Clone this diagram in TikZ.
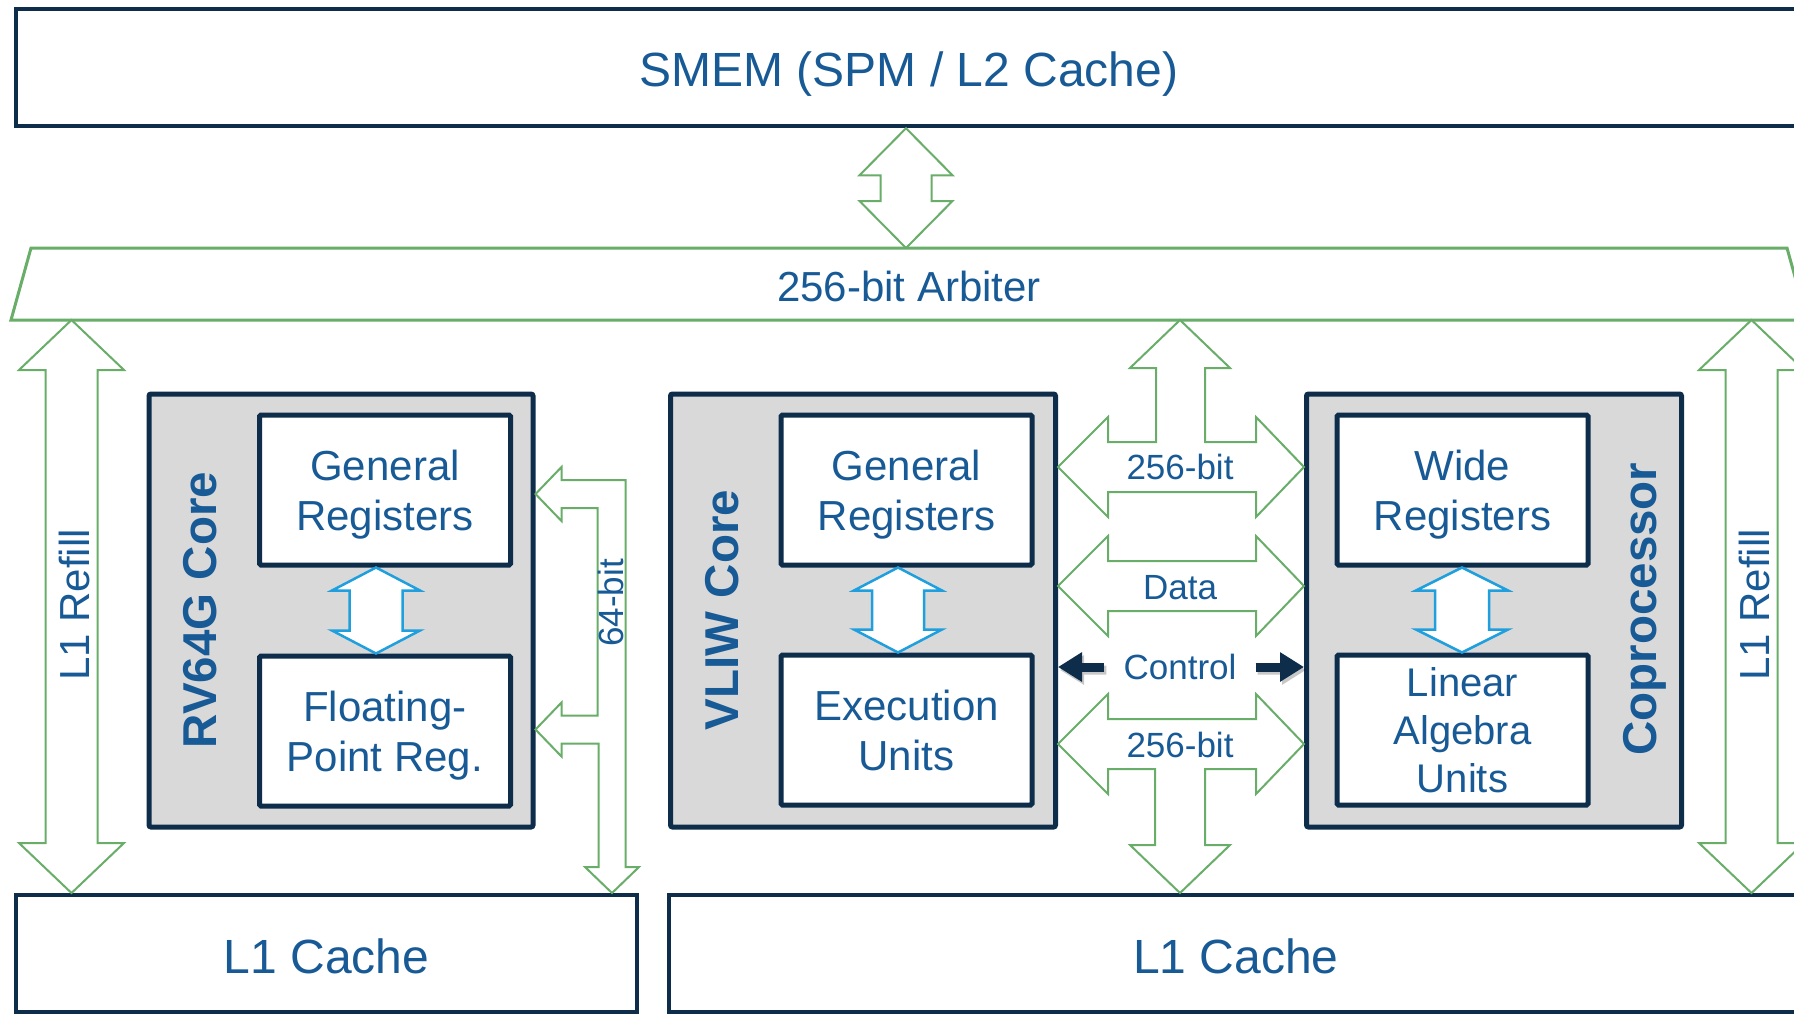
\documentclass[tikz,border=0pt]{standalone}
\usepackage{fontspec}
\setmainfont{Liberation Sans}
\usetikzlibrary{calc,arrows.meta}

\definecolor{navy}{HTML}{0E2D4B}
\definecolor{tblue}{HTML}{175A96}
\definecolor{bgreen}{HTML}{68AD68}
\definecolor{lblue}{HTML}{1F9FDD}
\definecolor{coregray}{HTML}{D9D9D9}

% last line of a multi-line label without its descender depth
\newcommand\nd[1]{\raisebox{0pt}[\height][0pt]{#1}}
% single-line label set a little lower inside its box
\newcommand\lowered[2]{\raisebox{-#1pt}[\height][0pt]{#2}}

% vertical double-headed block arrow: style, upper tip, lower tip,
% half shaft width, half head width, head length
\newcommand\vbiarrow[6]{%
  \draw[#1] (#2) -- ++(#5,#6) -- ++(#4-#5,0) -- ($(#3)+(#4,-#6)$)
    -- ++(#5-#4,0) -- (#3) -- ++(-#5,-#6) -- ++(#5-#4,0)
    -- ($(#2)+(-#4,#6)$) -- ++(#4-#5,0) -- cycle;}

\begin{document}
\begin{tikzpicture}[x=1pt,y=-1pt,
  lbl/.style={text=tblue,inner sep=0pt,align=center},
  fbig/.style={font=\fontsize{48pt}{57.6pt}\selectfont},
  fmid/.style={font=\fontsize{42pt}{50pt}\selectfont},
  fsmall/.style={font=\fontsize{35pt}{42pt}\selectfont},
  fcore/.style={font=\fontsize{47.5pt}{57pt}\selectfont\bfseries},
  membox/.style={draw=navy,line width=4.5pt,fill=white,lbl,fbig,text depth=0pt},
  corebox/.style={draw=navy,line width=5pt,fill=coregray,rounded corners=2pt,
    minimum width=384pt,minimum height=433pt},
  unitbox/.style={draw=navy,line width=5pt,fill=white,rounded corners=1.5pt,
    minimum width=251pt,minimum height=150pt,lbl,fmid},
  gblock/.style={draw=bgreen,line width=2pt,fill=white,line join=miter},
  bblock/.style={draw=lblue,line width=2.5pt,fill=white,line join=miter},
  ctrlarrow/.style={draw=navy,fill=navy,line width=9pt,-{Triangle[length=24pt,width=28pt]}},
  buslbl/.style={lbl,fsmall,text depth=0pt},
]
\useasboundingbox (0,0) rectangle (1794,1013);
\clip (0,0) rectangle (1794,1013);
\fill[white] (0,0) rectangle (1794,1013);

% memories
\node[membox,minimum width=1786pt,minimum height=117pt] (smem) at (909,67.5) {\lowered{2}{SMEM (SPM / L2 Cache)}};
\node[membox,line width=4pt,minimum width=621pt,minimum height=117pt] (l1a) at (326.5,953.5) {\lowered{2.5}{L1 Cache}};
\node[membox,line width=4pt,minimum width=1134pt,minimum height=117pt] (l1b) at (1236,953.5) {\lowered{2.5}{L1 Cache}};

% arbiter
\node[lbl,fmid,text depth=0pt,minimum width=1776pt,minimum height=72pt,outer sep=0pt] (arb) at (909,284) {\lowered{2.5}{256-bit Arbiter}};
\draw[draw=bgreen,line width=3pt] ($(arb.north west)+(10,0)$) -- ($(arb.north east)+(-10,0)$)
  -- ($(arb.south east)+(10,0)$) -- ($(arb.south west)+(-10,0)$) -- cycle;

% cores
\node[corebox] (rv) at (341,610.5) {};
\node[corebox,minimum width=385pt] (vliw) at (863,610.5) {};
\node[corebox,minimum width=375pt] (copro) at (1494,610.5) {};

\node[unitbox] (gr1) at (385,490) {General\\\nd{Registers}};
\node[unitbox] (fp1) at (385,731) {Floating-\\\nd{Point Reg.}};
\node[unitbox] (gr2) at (906.5,490) {General\\\nd{Registers}};
\node[unitbox] (ex2) at (906.5,730) {Execution\\Units};
\node[unitbox] (wr3) at (1462.5,490) {Wide\\\nd{Registers}};
\node[unitbox,font=\fontsize{40pt}{48pt}\selectfont] (la3) at (1462.5,730) {Linear\\Algebra\\Units};

\node[lbl,fcore,rotate=90] (rvlbl) at (200,610) {RV64G Core};
\node[lbl,fcore,rotate=90] (vliwlbl) at (722,610) {VLIW Core};
\node[lbl,fcore,rotate=90,text depth=0pt] (coprolbl) at (1640,609) {Coprocessor};

% SMEM <-> arbiter
\coordinate (m1) at (906,0 |- smem.south);
\coordinate (m2) at (906,0 |- arb.north);
\vbiarrow{gblock}{m1}{m2}{25.5}{46.5}{47}

% L1 refill paths
\coordinate (r1) at (71.5,0 |- arb.south);
\coordinate (r2) at (71.5,0 |- l1a.north);
\vbiarrow{gblock}{r1}{r2}{26}{52.5}{50}
\coordinate (r3) at (1751.5,0 |- arb.south);
\coordinate (r4) at (1751.5,0 |- l1b.north);
\vbiarrow{gblock}{r3}{r4}{26}{52.5}{50}

% register file <-> unit links
\coordinate (b1) at (376,0 |- gr1.south);
\coordinate (b2) at (376,0 |- fp1.north);
\vbiarrow{bblock}{b1}{b2}{26.5}{44}{23}
\coordinate (b3) at (898,0 |- gr2.south);
\coordinate (b4) at (898,0 |- ex2.north);
\vbiarrow{bblock}{b3}{b4}{26}{44}{23}
\coordinate (b5) at (1462,0 |- wr3.south);
\coordinate (b6) at (1462,0 |- la3.north);
\vbiarrow{bblock}{b5}{b6}{27}{46}{23}

% 64-bit bus of the RV64G core
\coordinate (w1) at (rv.east |- 0,494);
\coordinate (w2) at (rv.east |- 0,729.5);
\coordinate (w3) at (612,0 |- l1a.north);
\draw[gblock] let \p1=(w1), \p2=(w2), \p3=(w3) in
  (\p1) -- ++(26,-27) -- ++(0,13)
  -- (\x3+13.5pt,\y1+14pt) -- (\x3+13.5pt,\y3+26pt) -- ++(13.5,0)
  -- (\p3) -- ++(-27,-26) -- ++(13.5,0)
  -- (\x3-13.5pt,\y2-14pt) -- (\x2+26pt,\y2-14pt) -- ++(0,13)
  -- (\p2) -- ++(26,-27) -- ++(0,13)
  -- (\x3-14.5pt,\y2+14pt) -- (\x3-14.5pt,\y1-14pt) -- (\x1+26pt,\y1-14pt) -- ++(0,13) -- cycle;

% VLIW <-> coprocessor buses
\coordinate (c1l) at (vliw.east |- 0,467);
\coordinate (c1r) at (copro.west |- 0,467);
\coordinate (c1t) at (1180,0 |- arb.south);
\draw[gblock] let \p1=(c1l), \p2=(c1r), \p3=(c1t) in
  (\p3) -- ++(50,48) -- ++(-25,0) -- (\x3+25pt,\y1+25pt) -- (\x2-48pt,\y1+25pt) -- ++(0,-25)
  -- (\p2) -- ++(-48,50) -- ++(0,-25) -- (\x1+50pt,\y1-25pt) -- ++(0,25)
  -- (\p1) -- ++(50,-50) -- ++(0,25) -- (\x3-24pt,\y1+25pt) -- (\x3-24pt,\y3-48pt) -- ++(-26,0) -- cycle;

\coordinate (c2l) at (vliw.east |- 0,586);
\coordinate (c2r) at (copro.west |- 0,586);
\draw[gblock] let \p1=(c2l), \p2=(c2r) in
  (\p1) -- ++(50,-50) -- ++(0,25) -- (\x2-48pt,\y1+25pt) -- ++(0,-25)
  -- (\p2) -- ++(-48,50) -- ++(0,-25) -- (\x1+50pt,\y1-25pt) -- ++(0,25) -- cycle;

\coordinate (c3l) at (vliw.east |- 0,744);
\coordinate (c3r) at (copro.west |- 0,744);
\coordinate (c3b) at (1180,0 |- l1b.north);
\draw[gblock] let \p1=(c3l), \p2=(c3r), \p3=(c3b) in
  (\p1) -- ++(50,-50) -- ++(0,25) -- (\x2-48pt,\y1+25pt) -- ++(0,-25)
  -- (\p2) -- ++(-48,50) -- ++(0,-25) -- (\x3+25pt,\y1-25pt) -- (\x3+25pt,\y3+48pt) -- ++(25,0)
  -- (\p3) -- ++(-50,-48) -- ++(25,0) -- (\x3-25pt,\y1-25pt) -- (\x1+50pt,\y1-25pt) -- ++(0,25) -- cycle;

% bus labels
\node[buslbl] (bw1) at (1180,467) {256-bit};
\node[buslbl] (data) at (1180,587) {Data};
\node[buslbl] (bw2) at (1180,745) {256-bit};
\node[buslbl] (ctrl) at (1180,667) {Control};
\node[buslbl,rotate=90] (b64) at (611,603) {64-bit};
\node[lbl,fmid,rotate=90,text depth=0pt] (refl) at (74,605) {L1 Refill};
\node[lbl,fmid,rotate=90,text depth=0pt] (refr) at (1754,605) {L1 Refill};

% control signals with a soft shadow
\begin{scope}[transform canvas={xshift=2pt,yshift=-3pt},transparency group,opacity=.22]
  \draw[ctrlarrow,draw=black,fill=black] ([xshift=-19pt]ctrl.west) -- (ctrl.west -| vliw.east);
  \draw[ctrlarrow,draw=black,fill=black] ([xshift=19pt]ctrl.east) -- (ctrl.east -| copro.west);
\end{scope}
\draw[ctrlarrow] ([xshift=-19pt]ctrl.west) -- (ctrl.west -| vliw.east);
\draw[ctrlarrow] ([xshift=19pt]ctrl.east) -- (ctrl.east -| copro.west);
\end{tikzpicture}
\end{document}
